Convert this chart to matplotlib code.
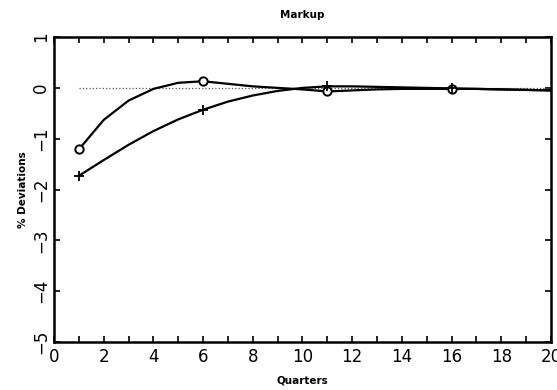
import numpy as np
import matplotlib.pyplot as plt
from matplotlib.ticker import MultipleLocator

quarters = np.arange(1, 21)
markup_o = [-1.21, -0.63, -0.25, -0.02, 0.10, 0.13, 0.08, 0.03, 0.0, -0.03,
            -0.07, -0.05, -0.03, -0.02, -0.02, -0.02, -0.02, -0.03, -0.04, -0.05]
markup_p = [-1.73, -1.42, -1.12, -0.85, -0.62, -0.43, -0.27, -0.15, -0.06, 0.0,
            0.03, 0.03, 0.02, 0.01, 0.0, -0.01, -0.02, -0.03, -0.04, -0.05]
steady = np.zeros(len(quarters))
mark_idx = [0, 5, 10, 15]

fig = plt.figure(figsize=(5.57, 3.9), dpi=100)
ax = fig.add_axes([0.097, 0.123, 0.892, 0.782])

ax.plot(quarters, steady, ':', color='#555555', lw=0.9)
ax.plot(quarters, markup_o, '-', color='black', lw=1.6)
ax.plot(quarters, markup_p, '-', color='black', lw=1.6)
ax.plot(quarters[mark_idx], np.array(markup_o)[mark_idx], 'o', mfc='white',
        mec='black', mew=1.4, ms=6)
ax.plot(quarters[mark_idx], np.array(markup_p)[mark_idx], '+', color='black',
        mew=1.3, ms=7)

ax.set_xlim(0, 20)
ax.set_ylim(-5, 1)
ax.xaxis.set_major_locator(MultipleLocator(2))
ax.xaxis.set_minor_locator(MultipleLocator(1))
ax.yaxis.set_major_locator(MultipleLocator(1))
ax.tick_params(which='both', direction='in', top=True, right=True,
               length=4, width=1.2)
ax.tick_params(axis='x', labelsize=12, pad=4)
ax.tick_params(axis='y', labelsize=12, pad=3)
for lab in ax.get_yticklabels():
    lab.set_rotation(90)
    lab.set_va('center')
for sp in ax.spines.values():
    sp.set_linewidth(1.8)

ax.set_title('Markup', fontsize=7.5, fontweight='bold', pad=14)
ax.set_xlabel('Quarters', fontsize=7.5, fontweight='bold', labelpad=7)
ax.set_ylabel('% Deviations', fontsize=7.5, fontweight='bold', labelpad=3)

fig.savefig('out.png', dpi=100)
